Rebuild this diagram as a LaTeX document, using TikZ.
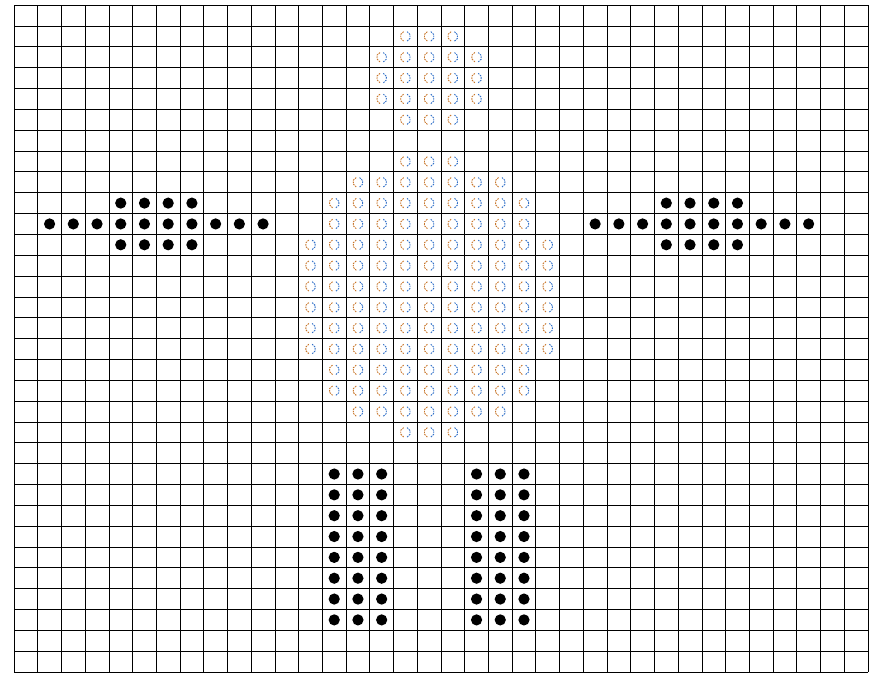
\documentclass[tikz,border=0pt]{standalone}
\definecolor{corange}{HTML}{C8762A}
\definecolor{cblue}{HTML}{2F6FC8}
\tikzset{
  every picture/.style={x=23.72pt, y=20.84pt},
  gridline/.style={draw=black, line width=0.75pt},
  stone/.style={fill=black},
  ringleft/.style={draw=corange, line width=0.9pt, dash pattern=on 1.6pt off 1pt},
  ringright/.style={draw=cblue, line width=0.9pt, dash pattern=on 1.6pt off 1pt},
}
% column #1 from the left, row #2 from the top
\newcommand{\putstone}[2]{\fill[stone] ({#1+0.5},{31.5-#2}) circle[radius=5.6pt]}
\newcommand{\putring}[2]{%
  \draw[ringleft] ({#1+0.5},{31.5-#2}) ++(110:5pt) arc[start angle=110, end angle=250, radius=5pt];
  \draw[ringright] ({#1+0.5},{31.5-#2}) ++(-70:5pt) arc[start angle=-70, end angle=70, radius=5pt]}

\begin{document}
\begin{tikzpicture}
  \useasboundingbox (-14pt,-1pt) rectangle (861pt,672pt);
  \fill[white] (-14pt,-1pt) rectangle (861pt,672pt);
  % board
  \foreach \xi in {0,...,36} {\draw[gridline] (\xi,0) -- (\xi,32);}
  \foreach \yj in {0,...,32} {\draw[gridline] (0,\yj) -- (36,\yj);}
  % rings, top group
  \foreach \rw/\ca/\cb in {1/16/18, 2/15/19, 3/15/19, 4/15/19, 5/16/18} {
    \foreach \cl in {\ca,...,\cb} {\putring{\cl}{\rw};}
  }
  % rings, big group
  \foreach \rw/\ca/\cb in {7/16/18, 8/14/20, 9/13/21, 10/13/21, 11/12/22, 12/12/22,
      13/12/22, 14/12/22, 15/12/22, 16/12/22, 17/13/21, 18/13/21, 19/14/20, 20/16/18} {
    \foreach \cl in {\ca,...,\cb} {\putring{\cl}{\rw};}
  }
  % crosses, left and right
  \foreach \dx in {0,23} {
    \foreach \cl in {4,...,7} {\putstone{\cl+\dx}{9}; \putstone{\cl+\dx}{11};}
    \foreach \cl in {1,...,10} {\putstone{\cl+\dx}{10};}
  }
  % blocks at the bottom
  \foreach \rw in {22,...,29} {
    \foreach \cl in {13,14,15,19,20,21} {\putstone{\cl}{\rw};}
  }
\end{tikzpicture}
\end{document}
